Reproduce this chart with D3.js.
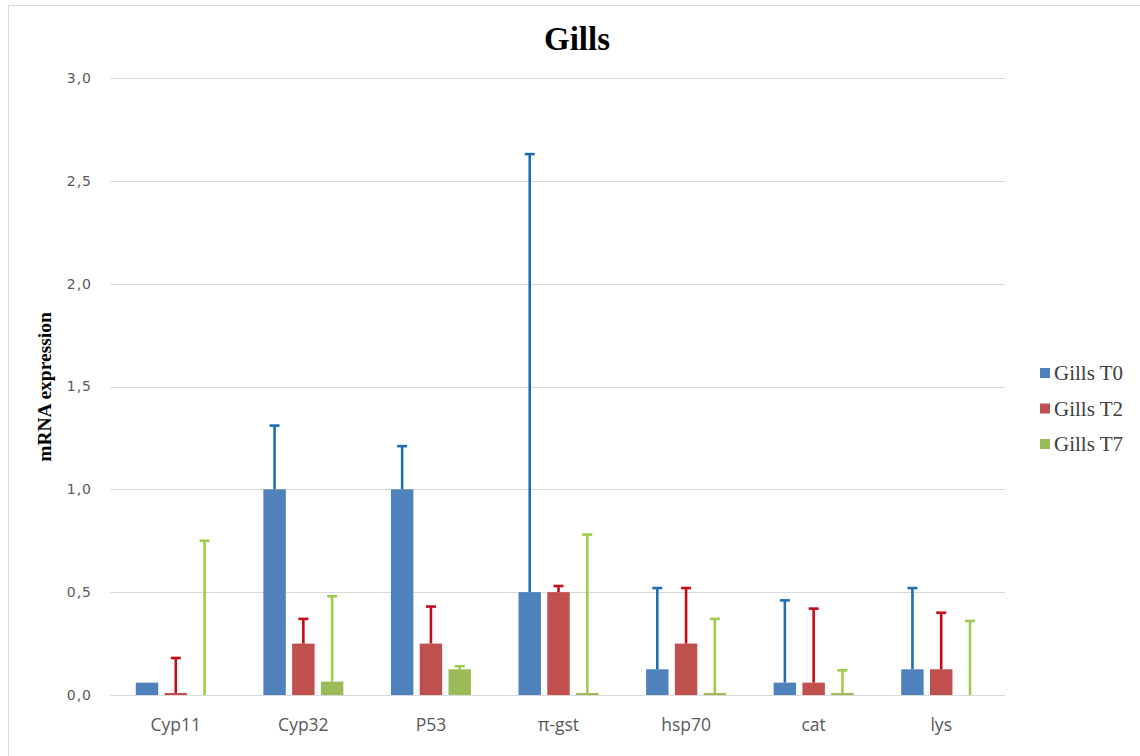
<!DOCTYPE html>
<html>
<head>
<meta charset="utf-8">
<script src="https://cdn.jsdelivr.net/npm/d3@7"></script>
<style>
  html, body { margin: 0; padding: 0; background: #fff; }
  svg { display: block; }
</style>
</head>
<body>
<svg id="chart" width="1140" height="756"></svg>
<script>
// Gene targets on the x axis
const genes = ["Cyp11", "Cyp32", "P53", "π-gst", "hsp70", "cat", "lys"];
// Sampling times (one bar series each)
const seriesNames = ["Gills T0", "Gills T2", "Gills T7"];
// Mean relative mRNA expression per series
const meanT0 = [0.06, 1.0, 1.0, 0.5, 0.125, 0.06, 0.125];
const meanT2 = [0.01, 0.25, 0.25, 0.5, 0.25, 0.06, 0.125];
const meanT7 = [0.0, 0.065, 0.125, 0.01, 0.01, 0.01, 0.0];
// Upper end of each error bar (mean + SD)
const upperT0 = [0.06, 1.31, 1.21, 2.63, 0.52, 0.46, 0.52];
const upperT2 = [0.18, 0.37, 0.43, 0.53, 0.52, 0.42, 0.40];
const upperT7 = [0.75, 0.48, 0.14, 0.78, 0.37, 0.12, 0.36];
// y axis ticks
const yTicks = [0, 0.5, 1.0, 1.5, 2.0, 2.5, 3.0];

const barColors = ["#4f81bd", "#c0504d", "#9bbb59"];
const errColors = ["#1f6db3", "#c00d1a", "#9ccc4a"];

const means = [meanT0, meanT2, meanT7];
const uppers = [upperT0, upperT2, upperT7];

const svg = d3.select("#chart");

// chart frame
svg.append("line").attr("x1", 8).attr("x2", 1140).attr("y1", 5.5).attr("y2", 5.5)
  .attr("stroke", "#d9d9d9").attr("stroke-width", 1);
svg.append("line").attr("x1", 8.5).attr("x2", 8.5).attr("y1", 5).attr("y2", 756)
  .attr("stroke", "#d9d9d9").attr("stroke-width", 1);

const plot = { left: 112, right: 1005, top: 78, bottom: 695 };

const x = d3.scaleBand().domain(genes).range([plot.left, plot.right]).paddingInner(0).paddingOuter(0);
const xs = d3.scaleBand().domain(seriesNames).range([0, 80]).paddingInner(0.22);
const y = d3.scaleLinear().domain([0, 3]).range([plot.bottom, plot.top]);

// gridlines
svg.append("g")
  .selectAll("line").data(yTicks).join("line")
  .attr("x1", plot.left - 2).attr("x2", plot.right)
  .attr("y1", d => Math.round(y(d)) + 0.5).attr("y2", d => Math.round(y(d)) + 0.5)
  .attr("stroke", "#d9d9d9").attr("stroke-width", 1.2);

// y axis tick labels
const fmt = d => d3.format(".1f")(d).replace(".", ",");
const yAxis = d3.axisLeft(y).tickValues(yTicks).tickFormat(fmt).tickSize(0).tickPadding(20);
const yg = svg.append("g").attr("transform", `translate(${plot.left},0)`).call(yAxis);
yg.select(".domain").remove();
yg.selectAll("text")
  .attr("font-family", "'DejaVu Sans', sans-serif")
  .attr("font-size", 14).attr("letter-spacing", 1).attr("fill", "#5a5a5a");

// category labels
const xAxis = d3.axisBottom(x).tickSize(0).tickPadding(24);
const xg = svg.append("g").attr("transform", `translate(0,${plot.bottom})`).call(xAxis);
xg.select(".domain").remove();
xg.selectAll("text")
  .attr("font-family", "'Open Sans', 'DejaVu Sans', sans-serif")
  .attr("font-size", 17.5).attr("fill", "#595959");

// bars and error bars
const groupOffset = (x.bandwidth() - 80) / 2;
seriesNames.forEach((name, si) => {
  const rows = genes.map((g, i) => ({ gene: g, mean: means[si][i], upper: uppers[si][i] }));
  const g = svg.append("g");
  const bx = d => x(d.gene) + groupOffset + xs(name);
  g.selectAll("rect").data(rows).join("rect")
    .attr("x", bx)
    .attr("width", xs.bandwidth())
    .attr("y", d => y(d.mean) - (d.mean > 0 && y(0) - y(d.mean) < 2 ? 2 - (y(0) - y(d.mean)) : 0))
    .attr("height", d => d.mean > 0 ? Math.max(2, y(0) - y(d.mean)) : 0)
    .attr("fill", barColors[si]);
  const err = rows.filter(d => d.upper > d.mean);
  g.selectAll("line.stem").data(err).join("line").attr("class", "stem")
    .attr("x1", d => bx(d) + xs.bandwidth() / 2).attr("x2", d => bx(d) + xs.bandwidth() / 2)
    .attr("y1", d => y(d.mean)).attr("y2", d => y(d.upper))
    .attr("stroke", errColors[si]).attr("stroke-width", 2.6);
  g.selectAll("line.cap").data(err).join("line").attr("class", "cap")
    .attr("x1", d => bx(d) + xs.bandwidth() / 2 - 5).attr("x2", d => bx(d) + xs.bandwidth() / 2 + 5)
    .attr("y1", d => y(d.upper)).attr("y2", d => y(d.upper))
    .attr("stroke", errColors[si]).attr("stroke-width", 2.6);
});

// title
svg.append("text").attr("x", 577).attr("y", 50).attr("text-anchor", "middle")
  .attr("font-family", "'Liberation Serif', 'Times New Roman', serif")
  .attr("font-weight", "bold").attr("font-size", 33).attr("fill", "#000")
  .text("Gills");

// y axis title
svg.append("text")
  .attr("transform", "translate(51,387) rotate(-90)")
  .attr("text-anchor", "middle")
  .attr("font-family", "'Liberation Serif', 'Times New Roman', serif")
  .attr("font-weight", "bold").attr("font-size", 19.5).attr("fill", "#000")
  .text("mRNA expression");

// legend
const legend = svg.append("g").attr("transform", "translate(1040,373)");
seriesNames.forEach((name, i) => {
  const row = legend.append("g").attr("transform", `translate(0,${i * 35.5})`);
  row.append("rect").attr("x", 0).attr("y", -5).attr("width", 10).attr("height", 10)
    .attr("fill", barColors[i]);
  row.append("text").attr("x", 14).attr("y", 7)
    .attr("font-family", "'Liberation Serif', 'Times New Roman', serif")
    .attr("font-size", 21).attr("fill", "#404040")
    .text(name);
});
</script>
</body>
</html>
